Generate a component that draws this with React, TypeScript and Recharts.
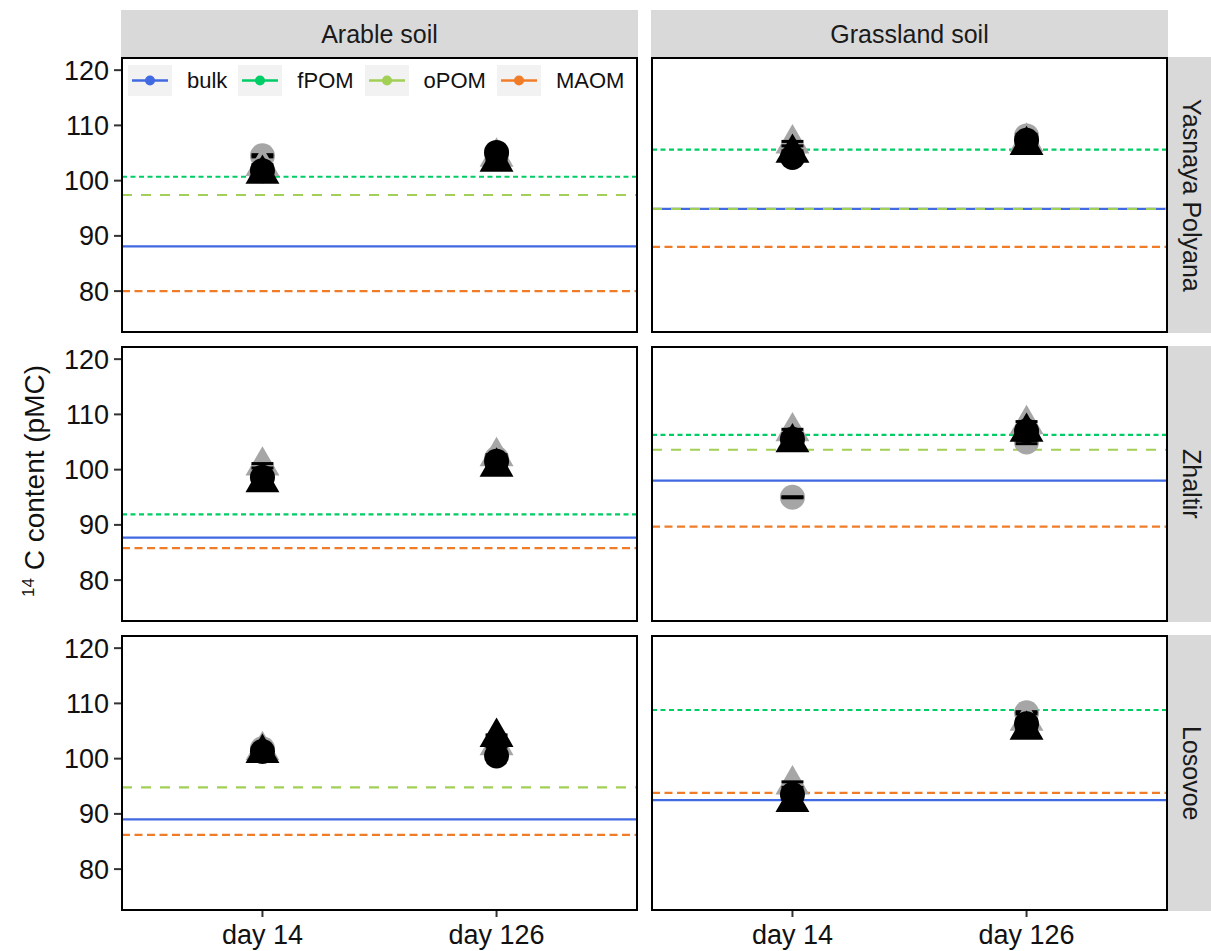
import React from "react";
import { ScatterChart, Scatter, XAxis, YAxis, ReferenceLine } from "recharts";

const soils = ["Arable soil", "Grassland soil"];
const sites = ["Yasnaya Polyana", "Zhaltir", "Losovoe"];
const days = ["day 14", "day 126"];
const yTicks = [80, 90, 100, 110, 120];

// fraction reference values, one per panel (site x soil, row by row); null = not drawn
const bulkLine = [88.1, 94.9, 87.7, 98.0, 89.0, 92.5];
const fpomLine = [100.7, 105.6, 91.9, 106.3, null, 108.8];
const opomLine = [97.4, 94.9, null, 103.6, 94.8, null];
const maomLine = [80.0, 88.0, 85.8, 89.7, 86.2, 93.8];

// point means per panel: [day 14, day 126]
const greyCircle = [[104.5, 104.8], [105.5, 108.1], [99.8, 102.0], [95.0, 105.0], [101.8, 101.0], [94.0, 108.3]];
const greyCircleErr = [[0.2, 0.3], [0.3, 0.3], [0.3, 0.3], [0.1, 0.3], [0.2, 0.3], [0.3, 0.2]];
const greyTriangle = [[102.6, 104.3], [106.7, 107.0], [100.7, 102.4], [106.9, 108.2], [101.5, 102.4], [95.3, 106.8]];
const greyTriangleErr = [[0.3, 0.2], [0.4, 0.3], [0.4, 0.3], [0.4, 0.5], [0.2, 0.3], [0.5, 0.3]];
const blackCircle = [[101.8, 105.1], [104.2, 107.3], [98.6, 101.5], [105.5, 107.0], [101.3, 100.5], [93.5, 106.3]];
const blackCircleErr = [[0.4, 0.3], [0.3, 0.4], [0.3, 0.4], [0.5, 0.4], [0.3, 0.3], [0.6, 0.4]];
const blackTriangle = [[101.2, 103.4], [105.0, 106.4], [97.7, 100.5], [104.9, 106.8], [101.0, 103.9], [92.1, 105.2]];
const blackTriangleErr = [[0.4, 0.3], [0.4, 0.3], [0.4, 0.3], [0.4, 0.4], [0.3, 0.4], [0.5, 0.4]];

const fractions = [
  { name: "bulk", values: bulkLine, color: "#4169e1", dash: undefined },
  { name: "fPOM", values: fpomLine, color: "#00cd66", dash: "5 3.5" },
  { name: "oPOM", values: opomLine, color: "#a2cf55", dash: "10 9" },
  { name: "MAOM", values: maomLine, color: "#f07c28", dash: "8 4.5" },
];

const markers = [
  { key: "gc", values: greyCircle, errs: greyCircleErr, fill: "#a6a6a6", tri: false },
  { key: "gt", values: greyTriangle, errs: greyTriangleErr, fill: "#a6a6a6", tri: true },
  { key: "bc", values: blackCircle, errs: blackCircleErr, fill: "#000000", tri: false },
  { key: "bt", values: blackTriangle, errs: blackTriangleErr, fill: "#000000", tri: true },
];

const PW = 515;
const PH = 274;
const colX = [122, 652];
const rowY = [58, 347, 636];
const YW = 80;
const XH = 41;
const TOP = 14;
const font = "'Liberation Sans', Arial, sans-serif";

function circleShape(fill: string) {
  return (p: any) => <circle cx={p.cx} cy={p.cy} r={12.5} fill={fill} />;
}

function triangleShape(fill: string) {
  return (p: any) => {
    const r = 19.6;
    const pts = `${p.cx},${p.cy - r} ${p.cx + 0.866 * r},${p.cy + 0.5 * r} ${p.cx - 0.866 * r},${p.cy + 0.5 * r}`;
    return <polygon points={pts} fill={fill} />;
  };
}

// error bar cap, drawn at mean +/- error
const capShape = (p: any) => (
  <line x1={p.cx - 11} x2={p.cx + 11} y1={p.cy} y2={p.cy} stroke="#000" strokeWidth={3} />
);

function Panel({ row, col }: { row: number; col: number }) {
  const idx = row * 2 + col;
  const left = col === 0;
  const bottom = row === 2;
  const width = PW + (left ? YW : 0);
  const height = PH + TOP + (bottom ? XH : 0);
  return (
    <>
      <div style={{ position: "absolute", left: left ? colX[0] - YW : colX[1], top: rowY[row] - TOP }}>
        <ScatterChart width={width} height={height} margin={{ top: TOP, right: 0, bottom: 0, left: 0 }}>
          <XAxis
            type="number"
            dataKey="x"
            domain={[0.4, 2.6]}
            ticks={[1, 2]}
            interval={0}
            allowDataOverflow
            tickFormatter={(v: number) => days[v - 1]}
            hide={!bottom}
            height={XH}
            tickSize={7}
            tickMargin={8}
            axisLine={false}
            tickLine={{ stroke: "#333", strokeWidth: 2 }}
            tick={{ fontSize: 27, fill: "#111" }}
          />
          <YAxis
            type="number"
            dataKey="y"
            domain={[72.6, 122.2]}
            ticks={yTicks}
            interval={0}
            allowDataOverflow
            hide={!left}
            width={YW}
            tickSize={8}
            tickMargin={5}
            axisLine={false}
            tickLine={{ stroke: "#333", strokeWidth: 2 }}
            tick={{ fontSize: 27, fill: "#111" }}
          />
          {markers.flatMap((m) => {
            const pts = m.values[idx].map((y, i) => ({ x: i + 1, y }));
            const caps = m.values[idx].flatMap((y, i) => [
              { x: i + 1, y: y + m.errs[idx][i] },
              { x: i + 1, y: y - m.errs[idx][i] },
            ]);
            return [
              <Scatter
                key={m.key}
                data={pts}
                shape={m.tri ? triangleShape(m.fill) : circleShape(m.fill)}
                isAnimationActive={false}
              />,
              <Scatter key={m.key + "-err"} data={caps} shape={capShape} isAnimationActive={false} />,
            ];
          })}
          {fractions.map((f) =>
            f.values[idx] == null ? null : (
              <ReferenceLine
                key={f.name}
                y={f.values[idx] as number}
                stroke={f.color}
                strokeWidth={2.2}
                strokeDasharray={f.dash}
              />
            )
          )}
        </ScatterChart>
      </div>
      <div
        style={{
          position: "absolute",
          left: colX[col] - 1,
          top: rowY[row] - 1,
          width: PW + 2,
          height: PH + 2,
          border: "2px solid #000",
          boxSizing: "border-box",
          pointerEvents: "none",
        }}
      />
    </>
  );
}

function LegendBox() {
  return (
    <div style={{ position: "absolute", left: 128, top: 65, height: 31, display: "flex", alignItems: "center" }}>
      {fractions.map((f) => (
        <div key={f.name} style={{ display: "flex", alignItems: "center" }}>
          <div style={{ width: 44, height: 31, background: "#f2f2f2" }}>
            <svg width={44} height={31}>
              <line x1={4} x2={40} y1={15.5} y2={15.5} stroke={f.color} strokeWidth={2.5} />
              <circle cx={22} cy={15.5} r={5} fill={f.color} />
            </svg>
          </div>
          <span style={{ fontSize: 22, marginLeft: 15, marginRight: 11, color: "#111" }}>{f.name}</span>
        </div>
      ))}
    </div>
  );
}

export default function App() {
  return (
    <div
      style={{
        position: "absolute",
        left: 0,
        top: 0,
        width: 1211,
        height: 951,
        background: "#fff",
        fontFamily: font,
        overflow: "hidden",
      }}
    >
      {soils.map((s, c) => (
        <div
          key={s}
          style={{
            position: "absolute",
            left: colX[c] - 1,
            top: 10,
            width: PW + 2,
            height: 48,
            background: "#d9d9d9",
            display: "flex",
            alignItems: "center",
            justifyContent: "center",
            fontSize: 25,
            color: "#1a1a1a",
          }}
        >
          {s}
        </div>
      ))}
      {sites.map((s, r) => (
        <div
          key={s}
          style={{
            position: "absolute",
            left: 1168,
            top: rowY[r] - 1,
            width: 48,
            height: PH + 2,
            background: "#d9d9d9",
            display: "flex",
            alignItems: "center",
            justifyContent: "center",
          }}
        >
          <span style={{ writingMode: "vertical-rl", fontSize: 25, color: "#1a1a1a", marginRight: 2 }}>{s}</span>
        </div>
      ))}
      {sites.map((s, r) =>
        soils.map((so, c) => <Panel key={s + so} row={r} col={c} />)
      )}
      <LegendBox />
      <div
        style={{
          position: "absolute",
          left: 29 - 160,
          top: 481 - 17,
          width: 320,
          height: 34,
          lineHeight: "34px",
          textAlign: "center",
          transform: "rotate(-90deg)",
          fontSize: 28,
          color: "#111",
          whiteSpace: "nowrap",
        }}
      >
        <sup style={{ fontSize: 17 }}>14</sup> C content (pMC)
      </div>
    </div>
  );
}
